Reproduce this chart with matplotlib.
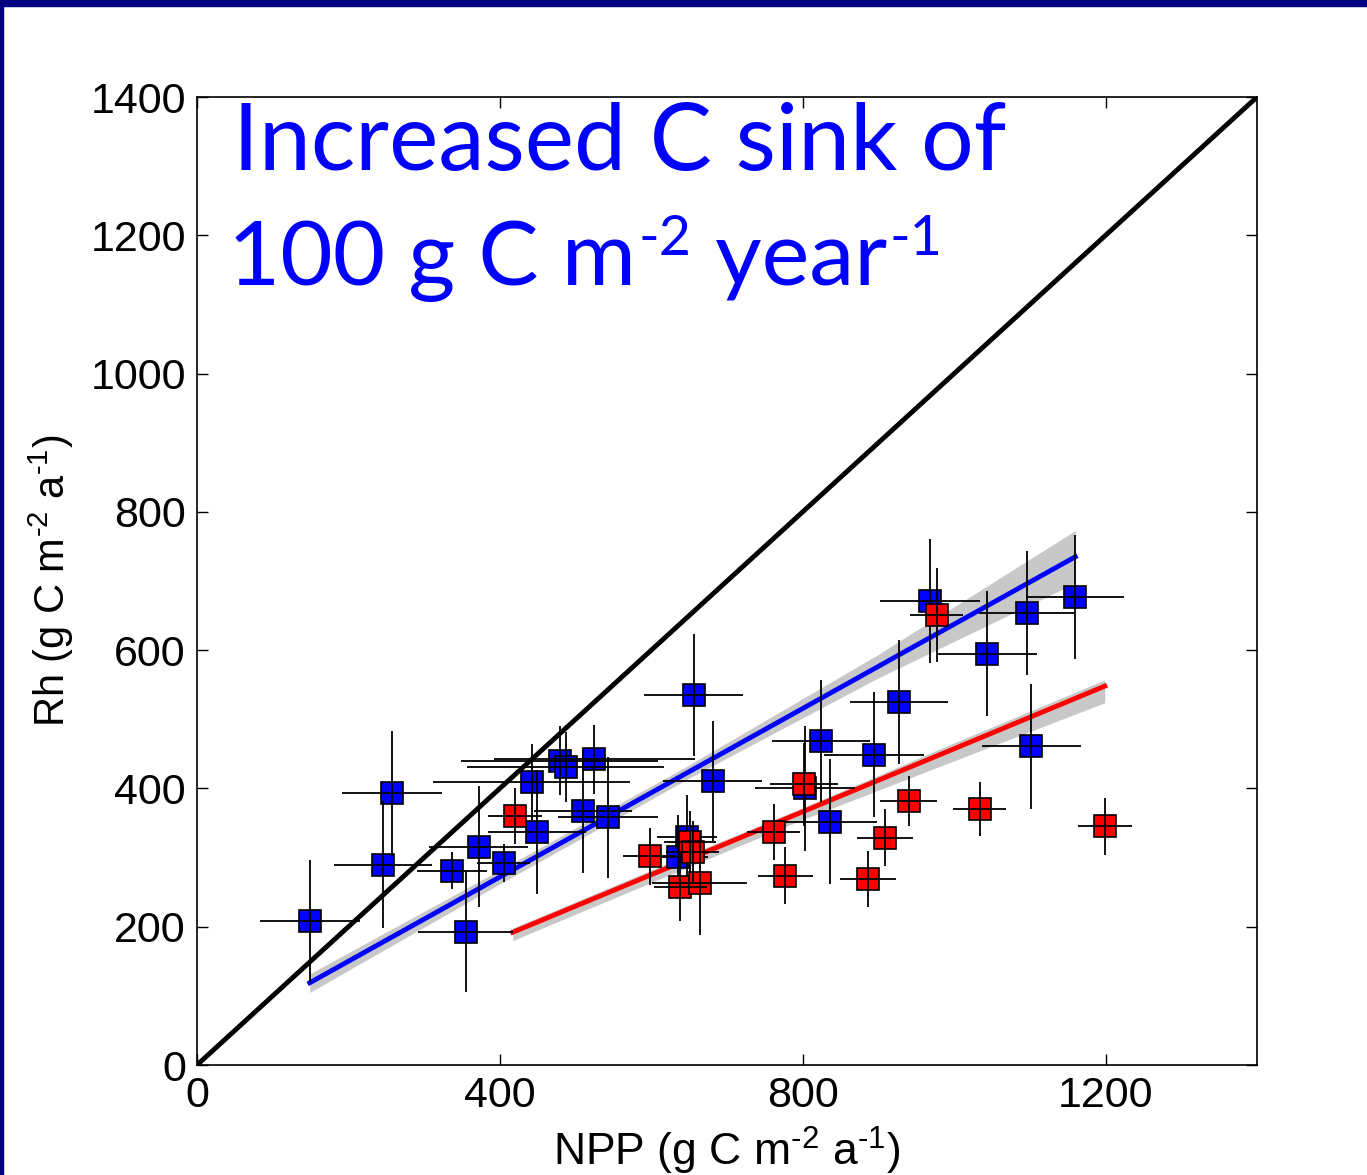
import numpy as np
import matplotlib
matplotlib.use('Agg')
import matplotlib.pyplot as plt
from matplotlib.patches import Rectangle

plt.rcParams['font.family'] = ['Liberation Sans', 'DejaVu Sans']
plt.rcParams['mathtext.fontset'] = 'custom'
plt.rcParams['mathtext.rm'] = 'Liberation Sans'

# sites, blue group: NPP, Rh, NPP error, Rh error
blue_npp = [149, 246, 258, 337, 355, 372, 405, 442, 449, 479, 487, 510, 525, 543,
            635, 647, 656, 681, 803, 824, 836, 894, 927, 968, 1044, 1096, 1102, 1160]
blue_rh = [208, 290, 393, 281, 193, 316, 292, 409, 337, 440, 431, 368, 442, 358,
           301, 330, 535, 411, 400, 469, 352, 449, 525, 671, 595, 654, 461, 677]
blue_xerr = [66, 65, 66, 46, 63, 65, 35, 130, 65, 130, 130, 65, 133, 66,
             40, 40, 65, 65, 66, 65, 62, 66, 65, 66, 66, 63, 65, 65]
blue_yerr = [88, 92, 90, 27, 88, 88, 27, 55, 90, 50, 50, 90, 50, 88,
             60, 60, 88, 87, 90, 88, 90, 90, 90, 90, 90, 90, 90, 90]

# red group
red_npp = [420, 598, 651, 655, 638, 664, 762, 777, 802, 886, 909, 940, 977, 1034, 1199]
red_rh = [360, 302, 323, 308, 257, 263, 337, 274, 406, 269, 329, 382, 651, 370, 345]
red_xerr = [36, 35, 34, 35, 35, 63, 35, 36, 45, 37, 37, 38, 35, 35, 36]
red_yerr = [40, 41, 45, 45, 48, 75, 40, 41, 60, 41, 41, 36, 68, 39, 41]

# regression lines and their confidence bands
blue_fit_x = [149, 1160]
blue_fit_y = [119, 735]
blue_band_x = [149, 400, 650, 900, 1160]
blue_band_lo = [105, 262, 415, 560, 697]
blue_band_hi = [132, 282, 434, 594, 773]

red_fit_x = [417, 1199]
red_fit_y = [192, 548]
red_band_x = [417, 600, 800, 1000, 1199]
red_band_lo = [180, 264, 355, 440, 524]
red_band_hi = [198, 282, 372, 466, 557]

one_to_one = [0, 1400]

# headline, second line split into (text, is_superscript)
headline_1 = 'Increased C sink of'
headline_2 = [('100 g C m', False), ('-2', True), (' year', False), ('-1', True)]

fig = plt.figure(figsize=(13.67, 11.75), dpi=100)
ax = fig.add_axes([0.1441, 0.0936, 0.7754, 0.8238])

# navy slide frame
fig.patches.append(Rectangle((0, 1 - 6 / 1175), 1, 6 / 1175, transform=fig.transFigure,
                             color='#000080', zorder=0))
fig.patches.append(Rectangle((0, 0), 3 / 1367, 1, transform=fig.transFigure,
                             color='#000080', zorder=0))

ax.fill_between(blue_band_x, blue_band_lo, blue_band_hi, color='#c8c8c8', lw=0, zorder=1)
ax.fill_between(red_band_x, red_band_lo, red_band_hi, color='#c8c8c8', lw=0, zorder=1)
ax.plot(blue_fit_x, blue_fit_y, color='#0000ff', lw=3.5, zorder=2)
ax.plot(red_fit_x, red_fit_y, color='#ff0000', lw=3.5, zorder=2)
ax.plot(one_to_one, one_to_one, color='black', lw=3.5, zorder=2)

ax.plot(blue_npp, blue_rh, 's', ms=15.5, mfc='#0000ff', mec='black', mew=1.2, zorder=3)
ax.errorbar(blue_npp, blue_rh, xerr=blue_xerr, yerr=blue_yerr, fmt='none',
            ecolor='black', elinewidth=1.3, capsize=0, zorder=4)
ax.plot(red_npp, red_rh, 's', ms=15.5, mfc='#ff0000', mec='black', mew=1.2, zorder=5)
ax.errorbar(red_npp, red_rh, xerr=red_xerr, yerr=red_yerr, fmt='none',
            ecolor='black', elinewidth=1.3, capsize=0, zorder=6)

ax.set_xlim(0, 1400)
ax.set_ylim(0, 1400)
ax.set_xticks([0, 400, 800, 1200])
ax.set_yticks(np.arange(0, 1401, 200))
ax.tick_params(direction='in', length=8, width=1, top=True, right=True,
               labelsize=31, pad=8)
for lab in ax.get_xticklabels() + ax.get_yticklabels():
    lab.set_fontweight('medium')
for s in ax.spines.values():
    s.set_linewidth(1.2)

ax.set_xlabel(r'NPP (g C m$^{\text{-2}}$ a$^{\text{-1}}$)', fontsize=32, labelpad=6)
ax.set_ylabel(r'Rh (g C m$^{\text{-2}}$ a$^{\text{-1}}$)', fontsize=30, labelpad=10)

title_font = ['Lato', 'DejaVu Sans']
ax.text(47, 1294, headline_1, color='#0000ff', fontsize=67,
        family=title_font, va='baseline', ha='left')

# second headline line: pieces placed one after another
renderer = fig.canvas.get_renderer()
x_px, y_px = ax.transData.transform((41, 1128))
for piece, sup in headline_2:
    size = 40 if sup else 65
    rise = 30 if sup else 0
    t = fig.text(x_px / fig.dpi, (y_px + rise) / fig.dpi, piece, color='#0000ff',
                 fontsize=size, family=title_font, va='baseline', ha='left',
                 transform=fig.dpi_scale_trans)
    bb = t.get_window_extent(renderer)
    x_px = bb.x1 + (1 if sup else 2)

fig.savefig('out.png', dpi=100)
